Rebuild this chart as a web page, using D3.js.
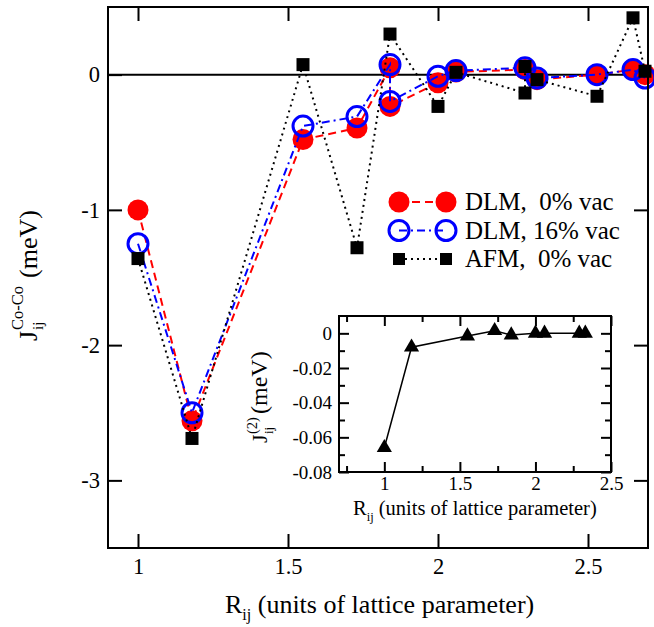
<!DOCTYPE html>
<html>
<head>
<meta charset="utf-8">
<script src="https://cdn.jsdelivr.net/npm/d3@7"></script>
<style>
  html, body { margin: 0; padding: 0; background: #fff; }
  svg { display: block; }
  text { white-space: pre; }
</style>
</head>
<body>
<svg id="chart" width="654" height="627" font-family="'Liberation Serif', 'DejaVu Serif', 'Noto Serif', serif"></svg>
<script>
// ---------- data ----------
const dlmR   = [1.00, 1.18, 1.55, 1.73, 1.84, 1.84, 2.00, 2.06, 2.29, 2.33, 2.53, 2.65, 2.69];
const dlm0   = [-1.00, -2.56, -0.48, -0.395, 0.05, -0.235, -0.06, 0.02, 0.037, -0.037, 0.00, 0.037, 0.00];
const dlm16  = [-1.25, -2.50, -0.38, -0.31, 0.074, -0.198, -0.012, 0.03, 0.05, -0.025, 0.00, 0.037, -0.025];
const afmR   = [1.00, 1.18, 1.55, 1.73, 1.84, 2.00, 2.06, 2.29, 2.29, 2.33, 2.53, 2.65, 2.69];
const afm0   = [-1.36, -2.69, 0.074, -1.28, 0.30, -0.235, 0.017, -0.136, 0.06, -0.037, -0.16, 0.42, 0.025];

const insetR = [1.00, 1.18, 1.55, 1.73, 1.84, 2.00, 2.06, 2.29, 2.33];
const insetJ = [-0.066, -0.008, -0.0016, 0.0015, -0.001, 0.0, 0.0, 0.0, 0.0];

const mainXTicks = [1, 1.5, 2, 2.5];
const mainYTicks = [-3, -2, -1, 0];
const insetXTicks = [1, 1.5, 2, 2.5];
const insetXMinor = [0.75, 1.25, 1.75, 2.25];
const insetYTicks = [-0.08, -0.06, -0.04, -0.02, 0];
const insetYMinor = [-0.07, -0.05, -0.03, -0.01];

const legendLabels = ["DLM,  0% vac", "DLM, 16% vac", "AFM,  0% vac"];

// ---------- setup ----------
const FONT = "'Liberation Serif', 'DejaVu Serif', 'Noto Serif', serif";
const svg = d3.select("#chart");
const fmt = d => String(d);

const M = {l: 108, r: 648, t: 7, b: 548};
const x = d3.scaleLinear().domain([0.9, 2.7]).range([M.l, M.r]);
const y = d3.scaleLinear().domain([-3.5, 0.5]).range([M.b, M.t]);

// zero line
svg.append("line")
  .attr("x1", x(0.9)).attr("x2", x(2.7)).attr("y1", y(0)).attr("y2", y(0))
  .attr("stroke", "#000").attr("stroke-width", 2);

// axes (inward ticks)
const TK = 14;
function styleAxis(g, fs) {
  g.attr("font-family", FONT).attr("font-size", fs);
  g.select(".domain").remove();
  g.selectAll(".tick line").attr("stroke", "#000").attr("stroke-width", 2);
  g.selectAll(".tick text").attr("fill", "#000");
}
svg.append("g").attr("transform", `translate(0,${M.b})`)
  .call(d3.axisBottom(x).tickValues(mainXTicks).tickFormat(fmt).tickSize(-TK).tickPadding(10))
  .call(g => styleAxis(g, 22.5));
svg.append("g").attr("transform", `translate(0,${M.t})`)
  .call(d3.axisTop(x).tickValues(mainXTicks).tickFormat("").tickSize(-TK))
  .call(g => styleAxis(g, 22.5));
svg.append("g").attr("transform", `translate(${M.l},0)`)
  .call(d3.axisLeft(y).tickValues(mainYTicks).tickFormat(fmt).tickSize(-TK).tickPadding(8))
  .call(g => styleAxis(g, 22.5));
svg.append("g").attr("transform", `translate(${M.r},0)`)
  .call(d3.axisRight(y).tickValues(mainYTicks).tickFormat("").tickSize(-TK))
  .call(g => styleAxis(g, 22.5));

// ---------- series ----------
const lineGen = d3.line().x(d => x(d[0])).y(d => y(d[1]));
const sRed = dlmR.map((r, i) => [r, dlm0[i]]);
const sBlue = dlmR.map((r, i) => [r, dlm16[i]]);
const sBlack = afmR.map((r, i) => [r, afm0[i]]);

// red
svg.append("path").datum(sRed).attr("d", lineGen)
  .attr("fill", "none").attr("stroke", "#ff0000").attr("stroke-width", 2)
  .attr("stroke-dasharray", "8,5");
svg.append("g").selectAll("circle").data(sRed).join("circle")
  .attr("cx", d => x(d[0])).attr("cy", d => y(d[1])).attr("r", 10.5)
  .attr("fill", "#ff0000");
// blue
svg.append("path").datum(sBlue).attr("d", lineGen)
  .attr("fill", "none").attr("stroke", "#0000ff").attr("stroke-width", 2)
  .attr("stroke-dasharray", "8,4,2,4");
svg.append("g").selectAll("circle").data(sBlue).join("circle")
  .attr("cx", d => x(d[0])).attr("cy", d => y(d[1])).attr("r", 10)
  .attr("fill", "none").attr("stroke", "#0000ff").attr("stroke-width", 3);
// black
svg.append("path").datum(sBlack).attr("d", lineGen)
  .attr("fill", "none").attr("stroke", "#000").attr("stroke-width", 2)
  .attr("stroke-dasharray", "2,4");
svg.append("g").selectAll("rect").data(sBlack).join("rect")
  .attr("x", d => x(d[0]) - 6.5).attr("y", d => y(d[1]) - 6.5)
  .attr("width", 13).attr("height", 13).attr("fill", "#000");

// frame
svg.append("rect").attr("x", M.l).attr("y", M.t)
  .attr("width", M.r - M.l).attr("height", M.b - M.t)
  .attr("fill", "none").attr("stroke", "#000").attr("stroke-width", 2);

// ---------- legend ----------
const lgX1 = 399, lgX2 = 446, lgTX = 465, lgY0 = 202, lgDY = 28.5;
const lg = svg.append("g");
legendLabels.forEach((lab, i) => {
  const cy = lgY0 + i * lgDY;
  const dash = ["8,5", "8,4,2,4", "2,4"][i];
  const col = ["#ff0000", "#0000ff", "#000"][i];
  lg.append("line").attr("x1", lgX1).attr("x2", lgX2).attr("y1", cy).attr("y2", cy)
    .attr("stroke", col).attr("stroke-width", 2).attr("stroke-dasharray", dash);
  [lgX1, lgX2].forEach(cx => {
    if (i === 0) lg.append("circle").attr("cx", cx).attr("cy", cy).attr("r", 10.5).attr("fill", col);
    else if (i === 1) lg.append("circle").attr("cx", cx).attr("cy", cy).attr("r", 10)
      .attr("fill", "none").attr("stroke", col).attr("stroke-width", 3);
    else lg.append("rect").attr("x", cx - 6).attr("y", cy - 6).attr("width", 12).attr("height", 12).attr("fill", col);
  });
  lg.append("text").attr("x", lgTX).attr("y", cy + 8).attr("font-size", 25).text(lab);
});

// ---------- axis labels ----------
// x label
const xl = svg.append("text").attr("x", 225).attr("y", 613).attr("font-size", 26);
xl.append("tspan").text("R");
xl.append("tspan").attr("dy", 7).attr("font-size", 16).text("ij");
xl.append("tspan").attr("dy", -7).text(" (units of lattice parameter)");

// y label
const yl = svg.append("g").attr("transform", "translate(37,277) rotate(-90)");
yl.append("text").attr("x", -64).attr("y", 0).attr("font-size", 26).text("J");
yl.append("text").attr("x", -53).attr("y", 6).attr("font-size", 15).text("ij");
yl.append("text").attr("x", -53).attr("y", -14).attr("font-size", 16.5).text("Co-Co");
yl.append("text").attr("x", -1).attr("y", 0).attr("font-size", 26).text("(meV)");

// ---------- inset ----------
const I = {l: 339, r: 611, t: 316, b: 472};
const xi = d3.scaleLinear().domain([0.7, 2.5]).range([I.l, I.r]);
const yi = d3.scaleLinear().domain([-0.08, 0.01]).range([I.b, I.t]);
svg.append("rect").attr("x", I.l).attr("y", I.t).attr("width", I.r - I.l).attr("height", I.b - I.t)
  .attr("fill", "#fff");

const TKI = 10, TKm = 6;
svg.append("g").attr("transform", `translate(0,${I.b})`)
  .call(d3.axisBottom(xi).tickValues(insetXTicks).tickFormat(fmt).tickSize(-TKI).tickPadding(5))
  .call(g => styleAxis(g, 19));
svg.append("g").attr("transform", `translate(0,${I.b})`)
  .call(d3.axisBottom(xi).tickValues(insetXMinor).tickFormat("").tickSize(-TKm))
  .call(g => styleAxis(g, 19));
svg.append("g").attr("transform", `translate(0,${I.t})`)
  .call(d3.axisTop(xi).tickValues(insetXTicks).tickFormat("").tickSize(-TKI))
  .call(g => styleAxis(g, 19));
svg.append("g").attr("transform", `translate(0,${I.t})`)
  .call(d3.axisTop(xi).tickValues(insetXMinor).tickFormat("").tickSize(-TKm))
  .call(g => styleAxis(g, 19));
svg.append("g").attr("transform", `translate(${I.l},0)`)
  .call(d3.axisLeft(yi).tickValues(insetYTicks).tickFormat(fmt).tickSize(-TKI).tickPadding(7))
  .call(g => styleAxis(g, 19));
svg.append("g").attr("transform", `translate(${I.l},0)`)
  .call(d3.axisLeft(yi).tickValues(insetYMinor).tickFormat("").tickSize(-TKm))
  .call(g => styleAxis(g, 19));
svg.append("g").attr("transform", `translate(${I.r},0)`)
  .call(d3.axisRight(yi).tickValues(insetYTicks).tickFormat("").tickSize(-TKI))
  .call(g => styleAxis(g, 19));
svg.append("g").attr("transform", `translate(${I.r},0)`)
  .call(d3.axisRight(yi).tickValues(insetYMinor).tickFormat("").tickSize(-TKm))
  .call(g => styleAxis(g, 19));

const sIn = insetR.map((r, i) => [r, insetJ[i]]);
svg.append("path").datum(sIn)
  .attr("d", d3.line().x(d => xi(d[0])).y(d => yi(d[1])))
  .attr("fill", "none").attr("stroke", "#000").attr("stroke-width", 1.5);
svg.append("g").selectAll("path").data(sIn).join("path")
  .attr("transform", d => `translate(${xi(d[0])},${yi(d[1])})`)
  .attr("d", d3.symbol().type(d3.symbolTriangle).size(100))
  .attr("fill", "#000");

svg.append("rect").attr("x", I.l).attr("y", I.t).attr("width", I.r - I.l).attr("height", I.b - I.t)
  .attr("fill", "none").attr("stroke", "#000").attr("stroke-width", 2);

// inset x label
const xil = svg.append("text").attr("x", 353).attr("y", 515).attr("font-size", 20.5);
xil.append("tspan").text("R");
xil.append("tspan").attr("dy", 6).attr("font-size", 12.5).text("ij");
xil.append("tspan").attr("dy", -6).text(" (units of lattice parameter)");

// inset y label
const yil = svg.append("g").attr("transform", "translate(267,394) rotate(-90)");
yil.append("text").attr("x", -49).attr("y", 0).attr("font-size", 22).text("J");
yil.append("text").attr("x", -40).attr("y", 6).attr("font-size", 13).text("ij");
yil.append("text").attr("x", -40).attr("y", -10).attr("font-size", 14.5).text("(2)");
yil.append("text").attr("x", -20).attr("y", 0).attr("font-size", 24).text("(meV)");
</script>
</body>
</html>
